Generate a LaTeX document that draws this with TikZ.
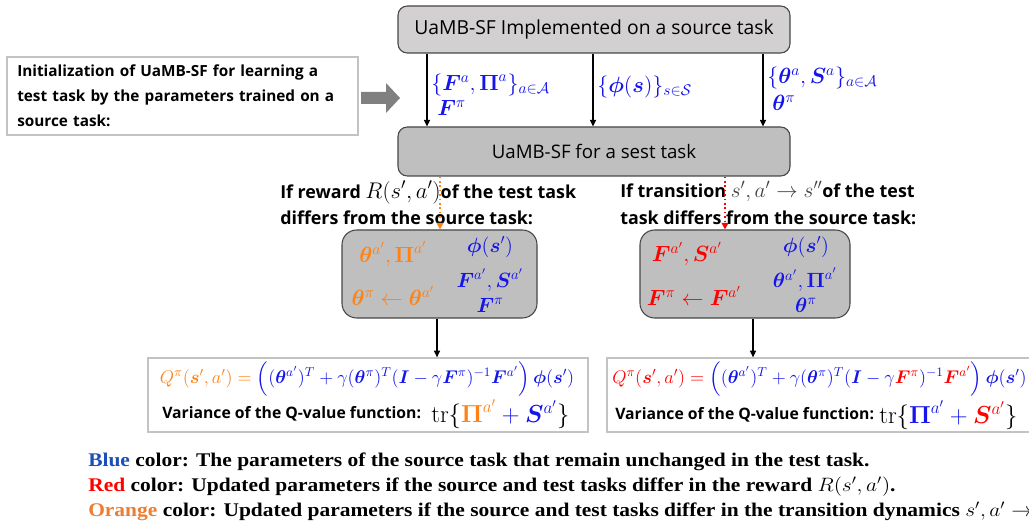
\RequirePackage{fix-cm}
\documentclass[tikz,border=0pt]{standalone}
\usepackage{amsmath,bm}
\usepackage{fontspec}
\newfontfamily\seg{Open Sans}
\newfontfamily\tnr{Liberation Serif}
\usetikzlibrary{arrows.meta}
\definecolor{cblue}{RGB}{20,20,235}
\definecolor{corange}{RGB}{255,130,20}
\definecolor{cred}{RGB}{255,0,0}
\definecolor{lblue}{RGB}{31,78,180}
\definecolor{lorange}{RGB}{237,125,49}
\definecolor{boxgray}{RGB}{191,191,191}
\definecolor{topgray}{RGB}{210,208,208}
\definecolor{edgegray}{RGB}{70,70,70}
\definecolor{lightedge}{RGB}{195,195,195}
\definecolor{arrowgray}{RGB}{128,128,128}
\tikzset{
  graybox/.style={draw=edgegray, line width=0.8pt, rounded corners=7pt, inner sep=0pt},
  midbox/.style={draw=edgegray, line width=0.8pt, fill=boxgray, rounded corners=11pt, inner sep=0pt},
  plainbox/.style={draw=lightedge, line width=0.9pt, fill=white, inner sep=0pt},
  darrow/.style={-{Triangle[length=5pt,width=4.5pt]}, line width=1.1pt, black},
  lbl/.style={anchor=west, inner sep=0pt, font=\fontsize{16.5}{18}\selectfont},
  inbox/.style={inner sep=0pt, font=\fontsize{15.5}{17}\selectfont},
  inboxc/.style={inner sep=0pt, font=\fontsize{16.5}{18}\selectfont},
  segtext/.style={anchor=west, inner sep=0pt, align=left, font=\seg\bfseries\fontsize{11.5}{18.75}\selectfont},
  legend/.style={anchor=west, inner sep=0pt, font=\tnr\bfseries\fontsize{14.5}{16}\selectfont},
}
\newcommand{\wide}[1]{\scalebox{1.11}[1]{#1}}
\begin{document}
\begin{tikzpicture}[x=0.75pt,y=-0.75pt]
\useasboundingbox (0,0) rectangle (1029,524);
\clip (0,0) rectangle (1029,524);
% main boxes
\node[graybox, fill=topgray, minimum width=294pt, minimum height=35.25pt, font=\seg\fontsize{14.5}{16}\selectfont] (top) at (594,29.5) {UaMB-SF Implemented on a source task};
\node[graybox, fill=boxgray, minimum width=294pt, minimum height=36.75pt, font=\seg\fontsize{14}{16}\selectfont] (mid) at (594,151.5) {UaMB-SF for a sest task};
% initialization box
\node[plainbox, minimum width=263.25pt, minimum height=58.5pt] (init) at (182.5,96) {};
\node[segtext, text width=250pt] (inittext) at (17,96) {Initialization of UaMB-SF for learning a\\test task by the parameters trained on a\\source task:};
% fat gray arrow
\fill[arrowgray] (361,92) -- (386,92) -- (386,83) -- (400,98) -- (386,113) -- (386,104) -- (361,104) -- cycle;
% down arrows
\coordinate (x1) at (427,0);
\coordinate (x2) at (593,0);
\coordinate (x3) at (763,0);
\draw[darrow] (top.south -| x1) -- (mid.north -| x1);
\draw[darrow] (top.south -| x2) -- (mid.north -| x2);
\draw[darrow] (top.south -| x3) -- (mid.north -| x3);
\node[lbl, text=cblue] (l1) at (431,85) {$\{\bm{F}^{a},\bm{\Pi}^{a}\}_{a\in\mathcal{A}}$};
\node[lbl, text=cblue] (l2) at (437,108) {$\bm{F}^{\pi}$};
\node[lbl, text=cblue] (l3) at (597,87) {$\{\bm{\phi}(\bm{s})\}_{s\in\mathcal{S}}$};
\node[lbl, text=cblue] (l4) at (767,78) {$\{\bm{\theta}^{a},\bm{S}^{a}\}_{a\in\mathcal{A}}$};
\node[lbl, text=cblue] (l5) at (772,103) {$\bm{\theta}^{\pi}$};
% condition texts
\node[segtext, font=\seg\bfseries\fontsize{13.4}{20}\selectfont] (condL) at (280,203) {If reward {\mdseries\fontsize{17}{18}\selectfont$R(s',a')$}of the test task\\differs from the source task:};
\node[segtext, font=\seg\bfseries\fontsize{13.4}{20}\selectfont] (condR) at (620,203) {If transition {\mdseries\fontsize{16}{18}\selectfont\color{black!75}$s',a'\rightarrow s''$}of the test\\task differs from the source task:};
% middle boxes
\node[midbox, minimum width=146.25pt, minimum height=66pt] (lbox) at (439.5,274) {};
\node[midbox, minimum width=157.5pt, minimum height=66pt] (rbox) at (745,274) {};
\coordinate (ox) at (440,0);
\coordinate (rx) at (725,0);
\draw[corange, line width=1.3pt, dotted, -{Triangle[length=5pt,width=5pt]}] (mid.south -| ox) -- (lbox.north -| ox);
\draw[cred, line width=1.3pt, dotted, -{Triangle[length=5pt,width=5pt]}] (mid.south -| rx) -- (rbox.north -| rx);
% left box contents
\node[inboxc, text=corange] (lo1) at (393,254) {$\bm{\theta}^{a'},\bm{\Pi}^{a'}$};
\node[inboxc, text=corange] (lo2) at (393,296) {$\bm{\theta}^{\pi}\leftarrow\bm{\theta}^{a'}$};
\node[inbox, text=cblue] (lb1) at (490,247) {$\bm{\phi}(\bm{s}')$};
\node[inbox, text=cblue] (lb2) at (490,280) {$\bm{F}^{a'},\bm{S}^{a'}$};
\node[inbox, text=cblue] (lb3) at (490,305) {$\bm{F}^{\pi}$};
% right box contents
\node[inboxc, text=cred] (ro1) at (687,254) {$\bm{F}^{a'},\bm{S}^{a'}$};
\node[inboxc, text=cred] (ro2) at (694,296) {$\bm{F}^{\pi}\leftarrow\bm{F}^{a'}$};
\node[inbox, text=cblue] (rb1) at (806,247) {$\bm{\phi}(\bm{s}')$};
\node[inbox, text=cblue] (rb2) at (805,280) {$\bm{\theta}^{a'},\bm{\Pi}^{a'}$};
\node[inbox, text=cblue] (rb3) at (806,305) {$\bm{\theta}^{\pi}$};
% bottom boxes
\node[plainbox, minimum width=330pt, minimum height=55.5pt] (lq) at (368,395) {};
\node[plainbox, minimum width=330pt, minimum height=55.5pt] (rq) at (827,395) {};
\coordinate (ax) at (437,0);
\coordinate (bx) at (753,0);
\draw[darrow] (lbox.south -| ax) -- (lq.north -| ax);
\draw[darrow] (rbox.south -| bx) -- (rq.north -| bx);
% left formula
\node[inbox, font=\fontsize{13.8}{16}\selectfont] (lf) at (367,379) {$\color{corange}Q^{\pi}(\bm{s}',a') ={}\color{cblue}\Big((\bm{\theta}^{a'})^{T}+\gamma(\bm{\theta}^{\pi})^{T}(\bm{I}-\gamma\bm{F}^{\pi})^{-1}\bm{F}^{a'}\Big)\,\bm{\phi}(\bm{s}')$};
\node[segtext, font=\seg\bfseries\fontsize{11.8}{14}\selectfont] (lv) at (162,414) {Variance of the Q-value function:};
\node[inbox, anchor=west, font=\fontsize{18.5}{20}\selectfont] (lt) at (431,414) {$\mathrm{tr}\{{\color{corange}\bm{\Pi}^{a'}}{\color{cblue}{}+\bm{S}^{a'}}\}$};
% right formula
\node[inbox, anchor=west, font=\fontsize{13.8}{16}\selectfont] (rf) at (612,379) {$\color{cred}Q^{\pi}(\bm{s}',a') ={}\color{cblue}\Big((\bm{\theta}^{a'})^{T}+\gamma(\bm{\theta}^{\pi})^{T}(\bm{I}-\gamma{\color{cred}\bm{F}^{\pi}})^{-1}{\color{cred}\bm{F}^{a'}}\Big)\,\bm{\phi}(\bm{s}')$};
\node[segtext, font=\seg\bfseries\fontsize{11.8}{14}\selectfont] (rv) at (615,415) {Variance of the Q-value function:};
\node[inbox, anchor=west, font=\fontsize{18.5}{20}\selectfont] (rt) at (879,415) {$\mathrm{tr}\{{\color{cblue}\bm{\Pi}^{a'}+{}}{\color{cred}\bm{S}^{a'}}\}$};
% legend
\node[legend] (g1) at (88,462) {\wide{{\color{lblue}Blue} color: The parameters of the source task that remain unchanged in the test task.}};
\node[legend] (g2) at (88,487) {\wide{{\color{cred}Red} color: Updated parameters if the source and test tasks differ in the reward {\mdseries$R(s',a')$}.}};
\node[legend] (g3) at (88,511) {\wide{{\color{lorange}Orange} color: Updated parameters if the source and test tasks differ in the transition dynamics {\mdseries$s',a'\rightarrow s''$}}};
\end{tikzpicture}
\end{document}
